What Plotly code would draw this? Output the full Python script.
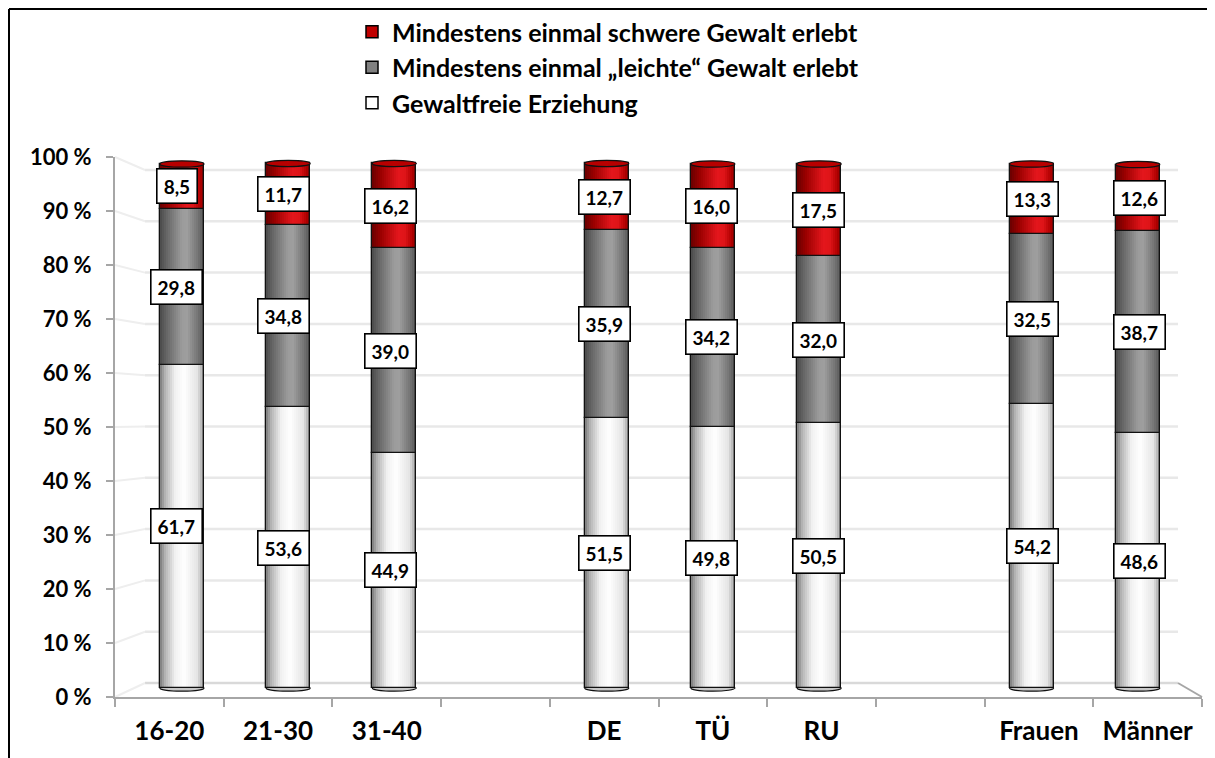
import plotly.graph_objects as go

# ---------------- data ----------------
categories = ["16-20", "21-30", "31-40", " ", "DE", "TÜ", "RU", "  ", "Frauen", "Männer"]
gewaltfrei = [61.7, 53.6, 44.9, None, 51.5, 49.8, 50.5, None, 54.2, 48.6]
leicht = [29.8, 34.8, 39.0, None, 35.9, 34.2, 32.0, None, 32.5, 38.7]
schwer = [8.5, 11.7, 16.2, None, 12.7, 16.0, 17.5, None, 13.3, 12.6]
series_names = [
    "Gewaltfreie Erziehung",
    "Mindestens einmal „leichte“ Gewalt erlebt",
    "Mindestens einmal schwere Gewalt erlebt",
]
y_ticks = [0, 10, 20, 30, 40, 50, 60, 70, 80, 90, 100]
y_ticktext = [f"{v} %" for v in y_ticks]

# ---------------- geometry / style ----------------
PAGE = 8
W, H = 1215 - PAGE, 758 - PAGE
PL, PR, PT, PB = 115, 1202, 157, 697          # plot area in window pixels
ML, MR, MT, MB = PL - PAGE, PAGE + W - PR, PT - PAGE, PAGE + H - PB
PW, PH = PR - PL, PB - PT
CAT_PX = PW / len(categories)
FONT = "Lato"
AXIS_GREY = "#a6a6a6"
GRID = "#e8e8e8"

def px_x(p):
    return (p - PL) / PW

def px_y(p):
    return (PB - p) / PH

BAR_UNIT = (688 - 164) / 100
bar_range = [-(PB - 688) / BAR_UNIT, 100 + (164 - PT) / BAR_UNIT]

bar_w = 0.405
bar_shift = [(12.6 - 2.5 * i) / CAT_PX for i in range(len(categories))]
label_shift = [7.6 - 1.7 * i for i in range(len(categories))]

def hex2rgb(h):
    h = h.lstrip("#")
    return tuple(int(h[j:j + 2], 16) for j in (0, 2, 4))

def shade(stops, t):
    for (t0, c0), (t1, c1) in zip(stops, stops[1:]):
        if t0 <= t <= t1:
            f = (t - t0) / (t1 - t0) if t1 > t0 else 0
            a, b = hex2rgb(c0), hex2rgb(c1)
            r = [round(a[k] + (b[k] - a[k]) * f) for k in range(3)]
            return "rgb(%d,%d,%d)" % tuple(r)
    return stops[-1][1]

white_stops = [(0, "#7a7a7a"), (0.12, "#b5b5b5"), (0.35, "#f2f2f2"), (0.55, "#ffffff"),
               (0.85, "#e4e4e4"), (1, "#9a9a9a")]
grey_stops = [(0, "#4a4a4a"), (0.15, "#666666"), (0.5, "#9b9b9b"), (0.62, "#9e9e9e"),
              (0.85, "#767676"), (1, "#555555")]
red_stops = [(0, "#6a0000"), (0.2, "#9a0000"), (0.6, "#e4161c"), (0.75, "#de1418"),
             (0.92, "#b00000"), (1, "#880000")]
legend_colors = ["#ffffff", "#808080", "#c00000"]

series = [gewaltfrei, leicht, schwer]
stops_list = [white_stops, grey_stops, red_stops]

fig = go.Figure()

for s in [2, 1, 0]:
    fig.add_trace(go.Bar(x=[None], y=[None], name=series_names[s],
                         marker=dict(color=legend_colors[s], line=dict(color="black", width=1.5)),
                         showlegend=True, hoverinfo="skip"))

N = 22
bases = [0 if v is not None else None for v in gewaltfrei]
for s, vals in enumerate(series):
    base = list(bases)
    for k in range(N):
        t = (k + 0.5) / N
        off = [bar_shift[i] - bar_w / 2 + k * bar_w / N for i in range(len(categories))]
        wid = bar_w / N * (1.6 if k < N - 1 else 1.0)
        fig.add_trace(go.Bar(
            x=categories, y=vals, base=base, offset=off, width=wid,
            marker=dict(color=shade(stops_list[s], t), line=dict(width=0)),
            showlegend=False, hoverinfo="skip"))
    fig.add_trace(go.Bar(
        x=categories, y=vals, base=base,
        offset=[bar_shift[i] - bar_w / 2 for i in range(len(categories))], width=bar_w,
        marker=dict(color="rgba(0,0,0,0)", line=dict(color="#111111", width=1.3)),
        showlegend=False, hovertemplate="%{x}: %{y:.1f}<extra>" + series_names[s] + "</extra>"))
    for i, v in enumerate(vals):
        if v is None:
            continue
        txt = f"{v:.1f}".replace(".", ",")
        ndig = sum(ch.isdigit() for ch in txt)
        tw = ndig * 10.8 + 5
        fig.add_annotation(
            x=categories[i], y=base[i] + v / 2, xref="x", yref="y",
            text=txt, showarrow=False, xshift=label_shift[i],
            font=dict(family=FONT, size=19, color="black", weight="bold"),
            bgcolor="white", bordercolor="black", borderwidth=1.6, borderpad=4,
            width=tw + 4, height=25, align="center", valign="middle")
    bases = [b + v if (b is not None and v is not None) else None for b, v in zip(base, vals)]

fig.add_trace(go.Scatter(x=[categories[0]], y=[0], yaxis="y2", mode="markers",
                         marker=dict(opacity=0), showlegend=False, hoverinfo="skip"))

shapes = []
for v in y_ticks:
    back = 683 - 5.13 * v
    front = 697 - 5.4 * v
    col = "#d9d9d9" if v == 0 else GRID
    shapes.append(dict(type="line", xref="paper", yref="paper",
                       x0=px_x(145), x1=px_x(1178), y0=px_y(back), y1=px_y(back),
                       line=dict(color=col, width=2.5), layer="below"))
    shapes.append(dict(type="line", xref="paper", yref="paper",
                       x0=px_x(115), x1=px_x(145), y0=px_y(front), y1=px_y(back),
                       line=dict(color="#eeeeee", width=2), layer="below"))
shapes.append(dict(type="line", xref="paper", yref="paper",
                   x0=px_x(1178), x1=px_x(1202), y0=px_y(683), y1=px_y(697),
                   line=dict(color=AXIS_GREY, width=2), layer="below"))

for i, c in enumerate(categories):
    if gewaltfrei[i] is None:
        continue
    xc = i + bar_shift[i]
    top = gewaltfrei[i] + leicht[i] + schwer[i]
    shapes.append(dict(type="circle", xref="x", yref="y",
                       x0=xc - bar_w / 2, x1=xc + bar_w / 2, y0=top - 0.6, y1=top + 0.6,
                       fillcolor="#b80000", line=dict(color="#111111", width=1.2), layer="above"))
    shapes.append(dict(type="circle", xref="x", yref="y",
                       x0=xc - bar_w / 2, x1=xc + bar_w / 2, y0=-0.6, y1=0.6,
                       fillcolor="#c8c8c8", line=dict(color="#111111", width=1.2), layer="below"))

for (x0, y0, x1, y1) in [(9, 9, 1210, 9), (9, 9, 9, 770), (1210, 9, 1210, 770)]:
    shapes.append(dict(type="line", xref="paper", yref="paper",
                       x0=px_x(x0), x1=px_x(x1), y0=px_y(y0), y1=px_y(y1),
                       line=dict(color="black", width=2)))

fig.update_layout(
    width=W, height=H,
    margin=dict(l=ML, r=MR, t=MT, b=MB, pad=0, autoexpand=False),
    paper_bgcolor="white", plot_bgcolor="rgba(0,0,0,0)",
    barmode="overlay", bargap=0,
    shapes=shapes,
    font=dict(family=FONT, color="black"),
    showlegend=True,
    legend=dict(x=px_x(352), y=px_y(9), xanchor="left", yanchor="top",
                orientation="v", traceorder="normal", itemwidth=30,
                font=dict(family=FONT, size=25, color="black", weight="bold"),
                bgcolor="rgba(0,0,0,0)"),
    xaxis=dict(type="category", categoryorder="array", categoryarray=categories,
               range=[-0.5, len(categories) - 0.5], tickson="boundaries",
               ticks="outside", ticklen=8, tickwidth=2, tickcolor=AXIS_GREY,
               showline=True, linecolor=AXIS_GREY, linewidth=2, showgrid=False,
               tickfont=dict(family=FONT, size=26, color="black", weight="bold"),
               ticklabelstandoff=10, fixedrange=True),
    yaxis=dict(range=bar_range, showgrid=False, zeroline=False,
               showticklabels=False, showline=False, fixedrange=True),
    yaxis2=dict(overlaying="y", side="left", range=[0, 100],
                tickmode="array", tickvals=y_ticks, ticktext=y_ticktext,
                ticks="outside", ticklen=7, tickwidth=2, tickcolor=AXIS_GREY,
                showline=True, linecolor=AXIS_GREY, linewidth=2, showgrid=False, zeroline=False,
                tickfont=dict(family=FONT, size=22, color="black", weight="bold"),
                ticklabelstandoff=10, fixedrange=True),
)

fig.write_html("out.html")
